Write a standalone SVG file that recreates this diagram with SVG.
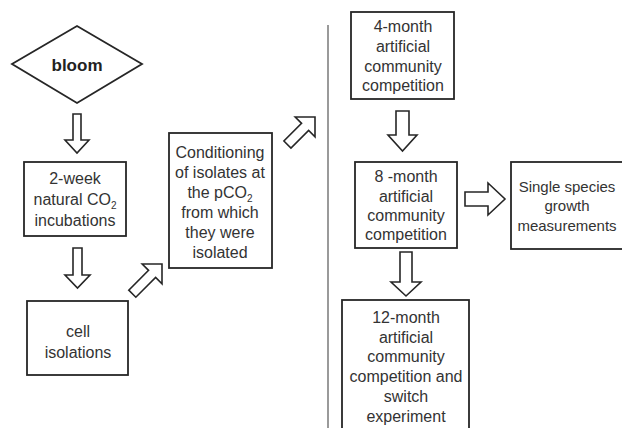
<svg xmlns="http://www.w3.org/2000/svg" width="622" height="428" viewBox="0 0 622 428">
<style>
.box{fill:#fff;stroke:#262626;stroke-width:1.8}
.arrow{fill:#fff;stroke:#262626;stroke-width:1.6;stroke-linejoin:miter}
.t{font-family:"Liberation Sans",Arial,sans-serif;font-size:16px;fill:#333;text-anchor:middle}
.s{font-size:15px}
.b{font-family:"Liberation Sans",Arial,sans-serif;font-size:17px;font-weight:bold;fill:#222;text-anchor:middle}
.sep{stroke:#9a9a9a;stroke-width:2}
</style>
<rect width="622" height="428" fill="#fff"/>
<line class="sep" x1="328" y1="25" x2="328" y2="428"/>
<g id="connectors">
<polygon class="arrow" points="73,114 81,114 81,140 89,140 77,153 65,140 73,140"/>
<polygon class="arrow" points="73,248 82,248 82,275 90,275 77.5,288 65,275 73,275"/>
<polygon class="arrow" transform="translate(162,264) rotate(45)" points="-5,42 5,42 5,14 14,14 0,0 -14,14 -5,14"/>
<polygon class="arrow" transform="translate(315,117) rotate(45)" points="-5,39 5,39 5,14 14,14 0,0 -14,14 -5,14"/>
<polygon class="arrow" points="396,111 409,111 409,135 417,135 402.5,151 388,135 396,135"/>
<polygon class="arrow" points="400,252 412,252 412,282 421,282 406,296 391,282 400,282"/>
<polygon class="arrow" points="465,192 488,192 488,183 505,199 488,215 488,206 465,206"/>
</g>
<g id="bloom">
<polygon class="box" points="77,26 142,64 77,103 12,64"/>
<text class="b" x="77" y="71">bloom</text>
</g>
<g id="incubations">
<rect class="box" x="24" y="162" width="102" height="74"/>
<text class="t" x="75" y="184">2-week</text>
<text class="t" x="75" y="205">natural CO<tspan font-size="10" dy="4">2</tspan></text>
<text class="t" x="75" y="226">incubations</text>
</g>
<g id="isolations">
<rect class="box" x="27" y="301" width="101" height="74"/>
<text class="t" x="78" y="337">cell</text>
<text class="t" x="78" y="358">isolations</text>
</g>
<g id="conditioning">
<rect class="box" x="169" y="133" width="103" height="135"/>
<text class="t" x="220" y="158">Conditioning</text>
<text class="t" x="220" y="178">of isolates at</text>
<text class="t" x="220" y="198">the pCO<tspan font-size="10" dy="4">2</tspan></text>
<text class="t" x="220" y="218">from which</text>
<text class="t" x="220" y="238">they were</text>
<text class="t" x="220" y="258">isolated</text>
</g>
<g id="m4">
<rect class="box" x="351" y="12" width="103" height="87"/>
<text class="t" x="403" y="32">4-month</text>
<text class="t" x="403" y="52">artificial</text>
<text class="t" x="403" y="72">community</text>
<text class="t" x="403" y="91">competition</text>
</g>
<g id="m8">
<rect class="box" x="355" y="162" width="102" height="86"/>
<text class="t" x="406" y="182">8 -month</text>
<text class="t" x="406" y="202">artificial</text>
<text class="t" x="406" y="221">community</text>
<text class="t" x="406" y="240">competition</text>
</g>
<g id="single">
<rect class="box" x="511" y="162" width="125" height="87"/>
<text class="t s" x="567" y="192">Single species</text>
<text class="t s" x="567" y="211">growth</text>
<text class="t s" x="567" y="231">measurements</text>
</g>
<g id="m12">
<rect class="box" x="342" y="300" width="127" height="140"/>
<text class="t" x="406" y="323">12-month</text>
<text class="t" x="406" y="343">artificial</text>
<text class="t" x="406" y="362">community</text>
<text class="t" x="406" y="382">competition and</text>
<text class="t" x="406" y="402">switch</text>
<text class="t" x="406" y="422">experiment</text>
</g>
</svg>
